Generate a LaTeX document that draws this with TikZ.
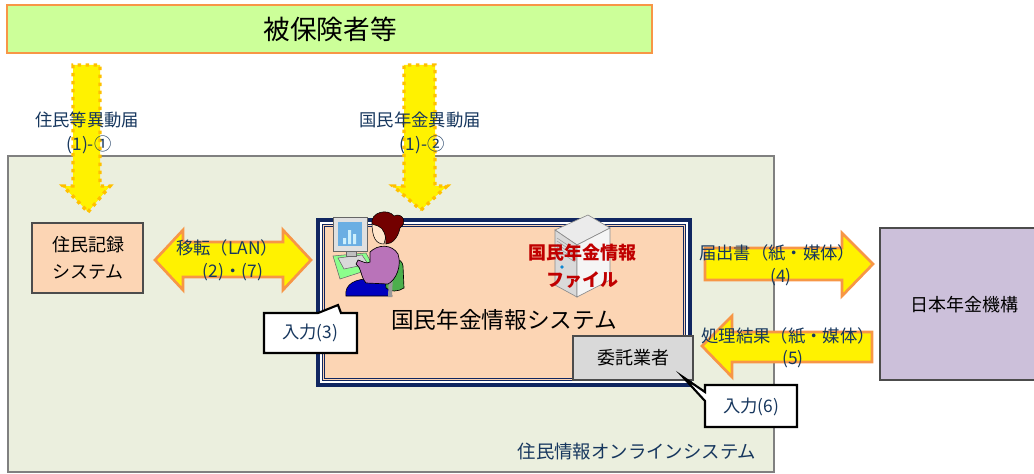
\documentclass[tikz,border=0pt]{standalone}
\usepackage{fontspec}
\setmainfont{Noto Sans CJK JP}
\definecolor{navytxt}{RGB}{23,55,94}
\definecolor{frame}{RGB}{16,38,96}
\definecolor{panel}{RGB}{235,239,222}
\definecolor{peach}{RGB}{252,213,180}
\definecolor{lime}{RGB}{204,255,153}
\definecolor{lineorange}{RGB}{247,150,70}
\definecolor{dotorange}{RGB}{255,192,0}
\definecolor{lavender}{RGB}{204,192,218}
\definecolor{boxgray}{RGB}{217,217,217}
\definecolor{darkred}{RGB}{192,0,0}
\tikzset{
  lbl/.style={text=navytxt,font=\fontsize{13pt}{15pt}\selectfont,inner sep=0pt},
  boxtxt/.style={text=black,font=\fontsize{13.5pt}{20pt}\selectfont,inner sep=0pt,align=center},
  bigarrow/.style={fill=yellow,draw=lineorange,line width=2pt,line join=miter},
  dotarrow/.style={fill=yellow,draw=dotorange,line width=2.6pt,dash pattern=on 2.6pt off 3.4pt},
  callout/.style={fill=white,draw=black,line width=1.6pt},
  plainbox/.style={draw=black!70,line width=1pt}
}
\begin{document}
\begin{tikzpicture}[x=0.75pt,y=-0.75pt]
\useasboundingbox (0,0) rectangle (1034,474);

% outer system panel
\draw[fill=panel,draw=black!50,line width=1.5pt] (8,156) rectangle (774,472);
\node[lbl,font=\fontsize{13.8pt}{16pt}\selectfont] (panelname) at (637,452) {住民情報オンラインシステム};

% insured persons banner
\draw[fill=lime,draw=lineorange,line width=1pt] (7,5) rectangle (652,53);
\node[font=\fontsize{20pt}{24pt}\selectfont,inner sep=0pt] (insured) at (330,29) {被保険者等};

% downward notification arrows
\draw[dotarrow] (88,212) -- (110,186) -- (100,186) -- (100,65) -- (73,65) -- (73,186) -- (63,186) -- cycle;
\draw[dotarrow] (421,210) -- (447,186) -- (435,186) -- (435,65) -- (404,65) -- (404,186) -- (393,186) -- cycle;
\node[lbl] (n1) at (87,120) {住民等異動届};
\node[lbl] (n1b) at (89,145) {(1)-①};
\node[lbl] (n2) at (420,120) {国民年金異動届};
\node[lbl] (n2b) at (422,145) {(1)-②};

% resident record system
\draw[fill=peach,plainbox] (32,223) rectangle (143,293);
\node[boxtxt] (resident) at (88,258) {住民記録\\システム};

% transfer over LAN
\draw[bigarrow] (155,260) -- (183,230) -- (183,242) -- (283,242) -- (283,230) -- (311,260) -- (283,290) -- (283,277) -- (183,277) -- (183,290) -- cycle;
\node[lbl] (lan) at (227,248) {移転（LAN）};
\node[lbl] (lanb) at (233,272) {(2)・(7)};

% national pension system frame
\draw[fill=peach,draw=frame,line width=2.4pt] (318,220) rectangle (690,385);
\draw[draw=white,line width=1.2pt] (320.8,222.8) rectangle (687.2,382.2);
\draw[draw=frame,line width=1pt] (322.8,224.8) rectangle (685.2,380.2);
\draw[draw=frame,line width=0.6pt] (324.8,226.8) rectangle (683.2,378.2);
\node[font=\fontsize{17pt}{20pt}\selectfont,inner sep=0pt] (pension) at (504,320) {国民年金情報システム};

% operator at a workstation
\fill[green!45!white,draw=black!60,line width=0.4pt] (333,256) -- (366,253) -- (374,268) -- (340,279) -- cycle;
\fill[black!15,draw=black!60,line width=0.4pt] (338,258) -- (362,255) -- (368,264) -- (344,269) -- cycle;
\fill[black!25,draw=black!60,line width=0.4pt] (346,250) rectangle (356,256);
\draw[fill=black!12,draw=black!60,line width=0.5pt] (333,217) rectangle (367,251);
\fill[cyan!70!blue!60] (338,222) rectangle (362,246);
\fill[white!80!cyan] (343,238) rectangle (346,244) (348,230) rectangle (351,244) (353,234) rectangle (356,244);
\fill[blue!75!black,draw=black,line width=0.4pt] (346,296) .. controls (344,284) and (356,278) .. (372,279) -- (388,281) -- (392,296) -- cycle;
\fill[green!55!black!70!white,draw=black,line width=0.5pt] (384,262) .. controls (392,256) and (402,258) .. (403,266) -- (404,288) .. controls (398,292) and (390,292) .. (386,288) -- cycle;
\fill[black!40] (389,274) -- (393,274) -- (392,297) -- (388,297) -- cycle;
\fill[violet!55!white,draw=black,line width=0.5pt] (370,252) .. controls (378,244) and (392,244) .. (398,254) .. controls (402,266) and (396,280) .. (388,284) -- (366,283) .. controls (360,276) and (362,268) .. (356,264) -- (358,260) .. controls (364,262) and (366,264) .. (370,262) -- cycle;
\fill[orange!20!white,draw=black,line width=0.4pt] (372,222) .. controls (372,238) and (376,244) .. (384,244) -- (386,236) -- (384,224) -- cycle;
\fill[red!45!black,draw=black,line width=0.4pt] (372,224) .. controls (370,212) and (388,208) .. (394,216) .. controls (402,212) and (408,222) .. (400,228) .. controls (398,238) and (392,244) .. (386,244) .. controls (386,236) and (384,228) .. (378,226) -- cycle;

% file server
\fill[black!8,draw=black!45,line width=0.5pt] (555,230) -- (588,215) -- (610,228) -- (577,245) -- cycle;
\fill[black!15,draw=black!45,line width=0.5pt] (555,230) -- (577,245) -- (577,297) -- (555,285) -- cycle;
\fill[black!4,draw=black!45,line width=0.5pt] (577,245) -- (610,228) -- (610,280) -- (577,297) -- cycle;
\foreach \k in {0,3,6,9,12} \draw[black!40,line width=0.4pt] (557,238+\k) -- (575,250+\k);
\fill[cyan!70!blue] (562,267) circle (1.8);
\node[text=darkred,font=\bfseries\fontsize{13.5pt}{20pt}\selectfont,inner sep=0pt,align=center] (pfile) at (582,266) {国民年金情報\\ファイル};

% contractor
\draw[fill=boxgray,plainbox] (573,336) rectangle (693,380);
\node[boxtxt] (contractor) at (633,358) {委託業者};

% Japan Pension Service
\draw[fill=lavender,plainbox] (880,228) rectangle (1040,380);
\node[boxtxt] (jps) at (964,305) {日本年金機構};

% exchanges with Japan Pension Service
\draw[bigarrow] (705,248) -- (842,248) -- (842,233) -- (873,264) -- (842,296) -- (842,280) -- (705,280) -- cycle;
\draw[bigarrow] (702,346) -- (732,316) -- (732,332) -- (872,332) -- (872,362) -- (732,362) -- (732,377) -- cycle;
\node[lbl] (sub) at (777,253) {届出書（紙・媒体）};
\node[lbl] (subb) at (781,277) {(4)};
\node[lbl] (res) at (788,336) {処理結果（紙・媒体）};
\node[lbl] (resb) at (793,359) {(5)};

% input callouts
\draw[callout] (264,313) -- (318,313) -- (338,305) -- (341,313) -- (357,313) -- (357,353) -- (264,353) -- cycle;
\node[lbl] (in3) at (310,333) {入力(3)};
\draw[callout] (705,385) -- (797,385) -- (797,427) -- (705,427) -- (705,401) -- (683,377) -- (705,392) -- cycle;
\node[lbl] (in6) at (751,407) {入力(6)};
\end{tikzpicture}
\end{document}
